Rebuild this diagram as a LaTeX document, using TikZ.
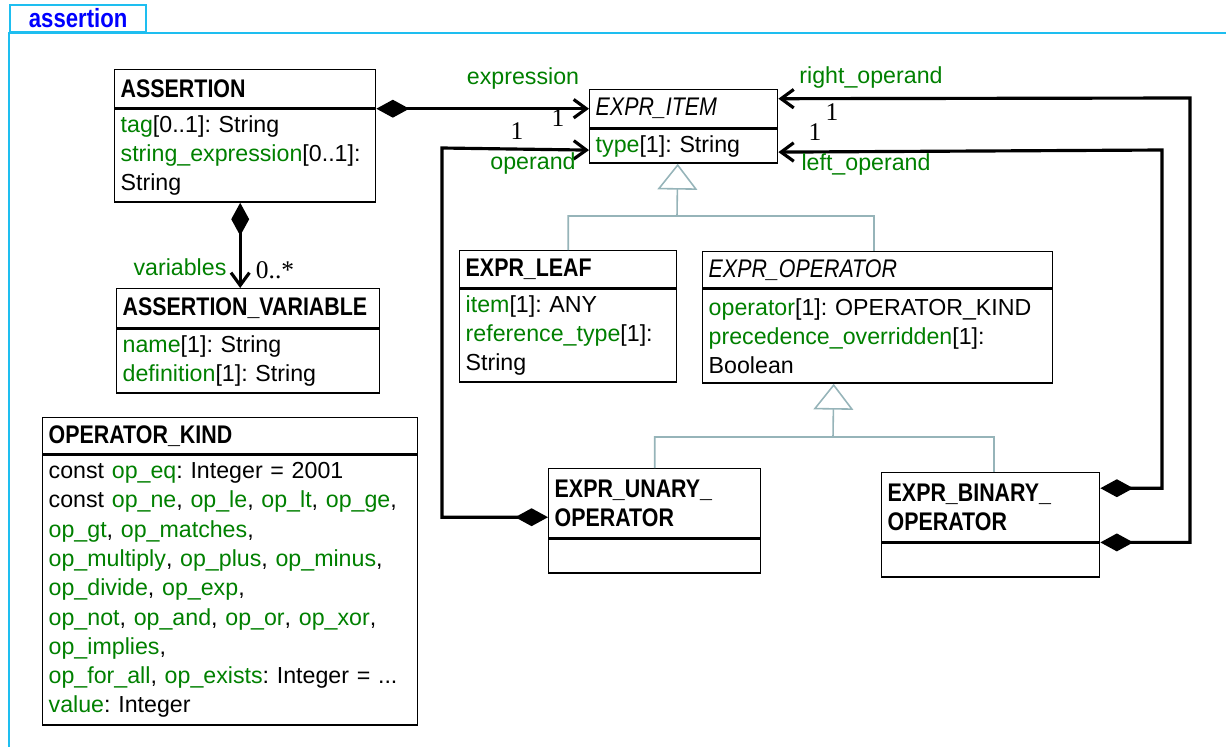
\documentclass[tikz,border=0pt]{standalone}
\usepackage{fontspec}
\setmainfont{Liberation Sans}
\newfontfamily\hdrfont{Liberation Sans}[FakeStretch=0.84]
\newfontfamily\multfont{Liberation Serif}
\usetikzlibrary{arrows.meta,positioning}
\definecolor{attrgreen}{RGB}{0,128,0}
\definecolor{framecol}{RGB}{30,190,240}
\definecolor{gencol}{RGB}{150,180,185}
\newdimen\pxu \pxu=0.02cm
\newcommand{\attr}[1]{\textcolor{attrgreen}{#1}}
\frenchspacing
\begin{document}
\begin{tikzpicture}[
        x=0.02cm, y=-0.02cm,
        font=\fontsize{13.2pt}{16.67pt}\selectfont
    ]
    \tikzset{
        hdr/.style = {rectangle, draw=black, line width=0.8pt, anchor=north west, align=left, inner xsep=6\pxu, inner ysep=0pt, font=\hdrfont\bfseries\fontsize{14.5pt}{16.67pt}\selectfont},
        hdri/.style = {hdr, font=\hdrfont\itshape\fontsize{14.5pt}{16.67pt}\selectfont},
        body/.style = {rectangle, draw=black, line width=0.8pt, anchor=north west, align=left, inner xsep=6\pxu, inner ysep=2\pxu},
        lbl/.style = {text=attrgreen, inner sep=0pt},
        mult/.style = {font=\multfont\fontsize{14.5pt}{16pt}\selectfont, inner sep=0pt},
        comp/.style = {line width=1.8pt, {Diamond[length=18.7pt,width=10.2pt]}-{Straight Barb[length=7.2pt,width=10.5pt]}},
        gen/.style = {draw=gencol, line width=0.9pt},
        genarr/.style = {gen, -{Triangle[open,length=14.7pt,width=22.7pt]}},
        frame/.style = {draw=framecol, line width=1.3pt},
    }
    \useasboundingbox (0,0) rectangle (1226,747);
    \draw[frame] (1226,33) -- (9,33) -- (9,747);
    \node[frame, rectangle, anchor=south west, minimum width=136\pxu, minimum height=27\pxu, inner sep=0pt, text=blue, font=\hdrfont\bfseries\fontsize{15pt}{16pt}\selectfont] at (9,33) (tab) {assertion};
    %
    \node[hdr, text width=249\pxu, minimum height=38\pxu] at (114,69) (assertion) {ASSERTION};
    \node[body, text width=249\pxu, minimum height=93\pxu] at (assertion.south west) (assertionb) {\attr{tag}[0..1]: String\\\attr{string\_expression}[0..1]:\\String};
    \node[hdr, text width=251\pxu, minimum height=39\pxu] at (116,288) (assertionv) {ASSERTION\_VARIABLE};
    \node[body, text width=251\pxu, minimum height=64\pxu] at (assertionv.south west) (assertionvb) {\attr{name}[1]: String\\\attr{definition}[1]: String};
    \node[hdr, text width=363\pxu, minimum height=36\pxu] at (42,417) (opkind) {OPERATOR\_KIND};
    \node[body, text width=363\pxu, minimum height=270\pxu] at (opkind.south west) (opkindb) {const \attr{op\_eq}: Integer = 2001\\
        const \attr{op\_ne}, \attr{op\_le}, \attr{op\_lt}, \attr{op\_ge},\\
        \attr{op\_gt}, \attr{op\_matches},\\
        \attr{op\_multiply}, \attr{op\_plus}, \attr{op\_minus},\\
        \attr{op\_divide}, \attr{op\_exp},\\
        \attr{op\_not}, \attr{op\_and}, \attr{op\_or}, \attr{op\_xor},\\
        \attr{op\_implies},\\
        \attr{op\_for\_all}, \attr{op\_exists}: Integer = ...\\
        \attr{value}: Integer};
    %
    \node[hdri, text width=176\pxu, minimum height=38\pxu] at (589,89) (expritem) {EXPR\_ITEM};
    \node[body, text width=176\pxu, minimum height=34\pxu] at (expritem.south west) (expritemb) {\attr{type}[1]: String};
    \node[hdr, text width=205\pxu, minimum height=37\pxu] at (459,250) (leaf) {EXPR\_LEAF};
    \node[body, text width=205\pxu, minimum height=93\pxu] at (leaf.south west) (leafb) {\attr{item}[1]: ANY\\\attr{reference\_type}[1]:\\String};
    \node[hdri, text width=338\pxu, minimum height=36\pxu] at (702,251) (oper) {EXPR\_OPERATOR};
    \node[body, text width=338\pxu, minimum height=94\pxu] at (oper.south west) (operb) {\attr{operator}[1]: OPERATOR\_KIND\\\attr{precedence\_overridden}[1]:\\Boolean};
    \node[hdr, text width=200\pxu, minimum height=69\pxu] at (548,468) (unary) {EXPR\_UNARY\_\\OPERATOR};
    \node[body, text width=200\pxu, minimum height=34\pxu] at (unary.south west) (unaryb) {};
    \node[hdr, text width=206\pxu, minimum height=69\pxu] at (881,472) (binary) {EXPR\_BINARY\_\\OPERATOR};
    \node[body, text width=206\pxu, minimum height=34\pxu] at (binary.south west) (binaryb) {};
    %
    \draw[genarr] (leaf.north) |- (677,216) -- ([xshift=-6\pxu]expritemb.south);
    \draw[gen] ([xshift=-4\pxu]oper.north) |- (677,216);
    \draw[genarr] (unary.north) |- (833,437) -- ([xshift=-44\pxu]operb.south);
    \draw[gen] ([xshift=3\pxu]binary.north) |- (833,437);
    %
    \draw[comp] (assertion.east |- expritem.west) -- (expritem.west);
    \draw[comp] ([xshift=-5\pxu]assertionb.south) -- ([xshift=-8\pxu]assertionv.north);
    \draw[comp] ([yshift=-14\pxu]unary.west) -| (442,148) -- ([yshift=-4\pxu]expritemb.west);
    \draw[comp] (binaryb.north east) -| (1190,98) -- ([yshift=10\pxu]expritem.east);
    \draw[comp] ([yshift=19\pxu]binary.east) -| (1162,150) -- ([yshift=-6\pxu]expritemb.east);
    %
    \node[lbl] at (523,79) (lexpr) {expression};
    \node[mult] at (558,118) (mexpr) {1};
    \node[mult] at (517,131) (mopnd) {1};
    \node[lbl] at (533,164) (lopnd) {operand};
    \node[lbl] at (871,78) (lright) {right\_operand};
    \node[mult] at (832,112) (mright) {1};
    \node[mult] at (815,132) (mleft) {1};
    \node[lbl] at (866,165) (lleft) {left\_operand};
    \node[lbl] at (180,267) (lvars) {variables};
    \node[mult] at (275,270) (mvars) {0..*};
\end{tikzpicture}
\end{document}
